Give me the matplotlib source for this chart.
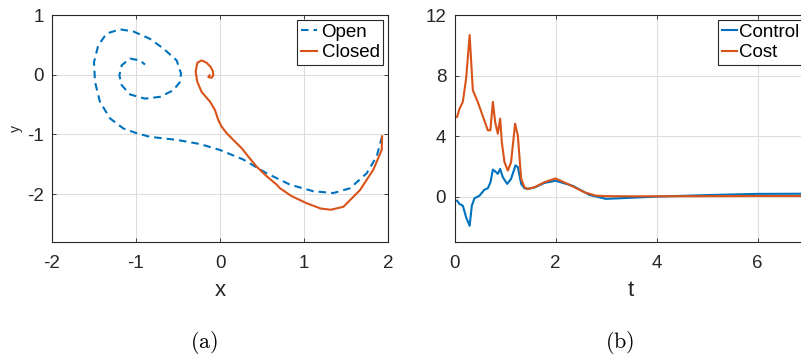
import matplotlib
matplotlib.use("Agg")
import matplotlib.pyplot as plt

# --- (a) phase portrait ---
open_x = [1.93, 1.865, 1.746, 1.548, 1.35, 1.11, 0.833, 0.556, 0.278, 0.0, -0.238, -0.516,
          -0.833, -0.99, -1.15, -1.31, -1.43, -1.488, -1.5, -1.45, -1.35, -1.19, -1.032,
          -0.833, -0.675, -0.516, -0.464, -0.476, -0.556, -0.714, -0.893, -1.071, -1.17,
          -1.198, -1.17, -1.071, -0.952, -0.893]
open_y = [-1.03, -1.37, -1.65, -1.9, -1.98, -1.95, -1.84, -1.65, -1.42, -1.26, -1.16, -1.09,
          -1.04, -0.98, -0.9, -0.73, -0.45, -0.12, 0.21, 0.49, 0.69, 0.76, 0.725,
          0.60, 0.44, 0.24, 0.02, -0.12, -0.26, -0.37, -0.40, -0.33, -0.175,
          -0.01, 0.16, 0.27, 0.24, 0.17]

closed_x = [1.93, 1.925, 1.825, 1.667, 1.47, 1.32, 1.2, 1.03, 0.85, 0.714, 0.675, 0.556,
            0.437, 0.337, 0.258, 0.179, 0.08, 0.02, -0.02, -0.06, -0.119, -0.218, -0.27,
            -0.29, -0.27, -0.218, -0.159, -0.111, -0.085, -0.08, -0.099, -0.139, -0.125]
closed_y = [-1.03, -1.26, -1.59, -1.93, -2.21, -2.26, -2.24, -2.15, -2.03, -1.9, -1.84, -1.70,
            -1.54, -1.37, -1.23, -1.12, -0.98, -0.87, -0.76, -0.59, -0.45, -0.29, -0.12,
            0.05, 0.2, 0.24, 0.2, 0.13, 0.06, -0.01, -0.05, -0.04, -0.01]

# --- (b) control and cost vs time ---
t_cost = [0.05, 0.1, 0.165, 0.23, 0.3, 0.363, 0.46, 0.66, 0.71, 0.76, 0.805, 0.858, 0.904,
          0.937, 0.99, 1.056, 1.12, 1.2, 1.254, 1.32, 1.386, 1.45, 1.584, 1.78, 2.0, 2.24,
          2.57, 2.8, 3.0, 3.5, 4.0, 5.0, 6.0, 7.0]
cost = [5.26, 5.81, 6.26, 7.8, 10.68, 7.03, 6.26, 4.38, 4.38, 6.26, 4.93, 4.15, 5.15,
        3.6, 2.27, 1.72, 2.27, 4.82, 4.04, 1.17, 0.62, 0.51, 0.62, 0.95, 1.2, 0.84,
        0.29, 0.06, 0.03, 0.02, 0.02, 0.03, 0.04, 0.04]

t_ctrl = [0.05, 0.1, 0.165, 0.23, 0.3, 0.343, 0.396, 0.495, 0.594, 0.66, 0.713, 0.76, 0.825,
          0.858, 0.904, 0.957, 1.043, 1.12, 1.208, 1.254, 1.32, 1.386, 1.45, 1.584, 1.78,
          2.0, 2.35, 2.68, 3.0, 3.67, 4.0, 5.0, 6.0, 7.0]
ctrl = [-0.27, -0.49, -0.6, -1.37, -1.93, -0.6, -0.11, 0.06, 0.46, 0.55, 0.95, 1.79, 1.61,
        1.5, 1.83, 1.28, 0.84, 1.17, 2.06, 1.95, 0.84, 0.55, 0.51, 0.6, 0.9,
        1.05, 0.7, 0.1, -0.15, -0.05, 0.0, 0.1, 0.18, 0.19]

BLUE = "#0072BD"
RED = "#D95319"
DARK = "#262626"

plt.rcParams["font.family"] = ["Liberation Sans", "DejaVu Sans"]
plt.rcParams["mathtext.fontset"] = "cm"
plt.rcParams["axes.unicode_minus"] = False

AX_H = 227


def style_axes(ax):
    ax.grid(True, color="#DEDEDE", linewidth=0.8)
    ax.set_axisbelow(True)
    for s in ax.spines.values():
        s.set_color(DARK)
        s.set_linewidth(0.8)
    ax.tick_params(direction="in", length=3, width=0.6, colors=DARK,
                   labelsize=13.5, top=True, right=True, labeltop=False, labelright=False)
    ax.tick_params(axis="x", pad=9)
    ax.tick_params(axis="y", pad=6)


def set_xlabel(ax, text):
    ax.set_xlabel(text, fontsize=16, color=DARK)
    ax.xaxis.label.set_va("center")
    ax.xaxis.set_label_coords(0.5, -(290 - 242) / AX_H)


def add_legend(ax, pad):
    leg = ax.legend(loc="upper right", fontsize=13.5, handlelength=0.85, handletextpad=pad,
                    borderaxespad=0.25, borderpad=0.2, labelspacing=0.2, fancybox=False,
                    edgecolor=DARK, framealpha=1)
    leg.get_frame().set_linewidth(0.8)


fig = plt.figure(figsize=(8.01, 3.6), dpi=100)

ax1 = fig.add_axes([52 / 801, 118 / 360, 336 / 801, AX_H / 360])
ax1.plot(open_x, open_y, color=BLUE, lw=1.5, dashes=(3.6, 2.4), label="Open")
ax1.plot(closed_x, closed_y, color=RED, lw=1.5, label="Closed")
ax1.set_xlim(-2, 2)
ax1.set_ylim(-2.8, 1)
ax1.set_xticks([-2, -1, 0, 1, 2])
ax1.set_yticks([-2, -1, 0, 1])
style_axes(ax1)
set_xlabel(ax1, "x")
ax1.set_ylabel("y", fontsize=10, color=DARK)
ax1.yaxis.label.set_va("center")
ax1.yaxis.set_label_coords(-(52 - 16) / 336, 0.5)
add_legend(ax1, 0.25)

ax2 = fig.add_axes([454.5 / 801, 118 / 360, 353.5 / 801, AX_H / 360])
ax2.plot(t_ctrl, ctrl, color=BLUE, lw=1.5, label="Control")
ax2.plot(t_cost, cost, color=RED, lw=1.5, label="Cost")
ax2.set_xlim(0, 7)
ax2.set_ylim(-3, 12)
ax2.set_xticks([0, 2, 4, 6])
ax2.set_yticks([0, 4, 8, 12])
style_axes(ax2)
set_xlabel(ax2, "t")
add_legend(ax2, 0.1)

fig.text(204 / 801, 1 - 342 / 360, r"$\mathrm{(a)}$", fontsize=16, ha="center", va="center")
fig.text(620 / 801, 1 - 342 / 360, r"$\mathrm{(b)}$", fontsize=16, ha="center", va="center")

fig.savefig("out.png", dpi=100)
